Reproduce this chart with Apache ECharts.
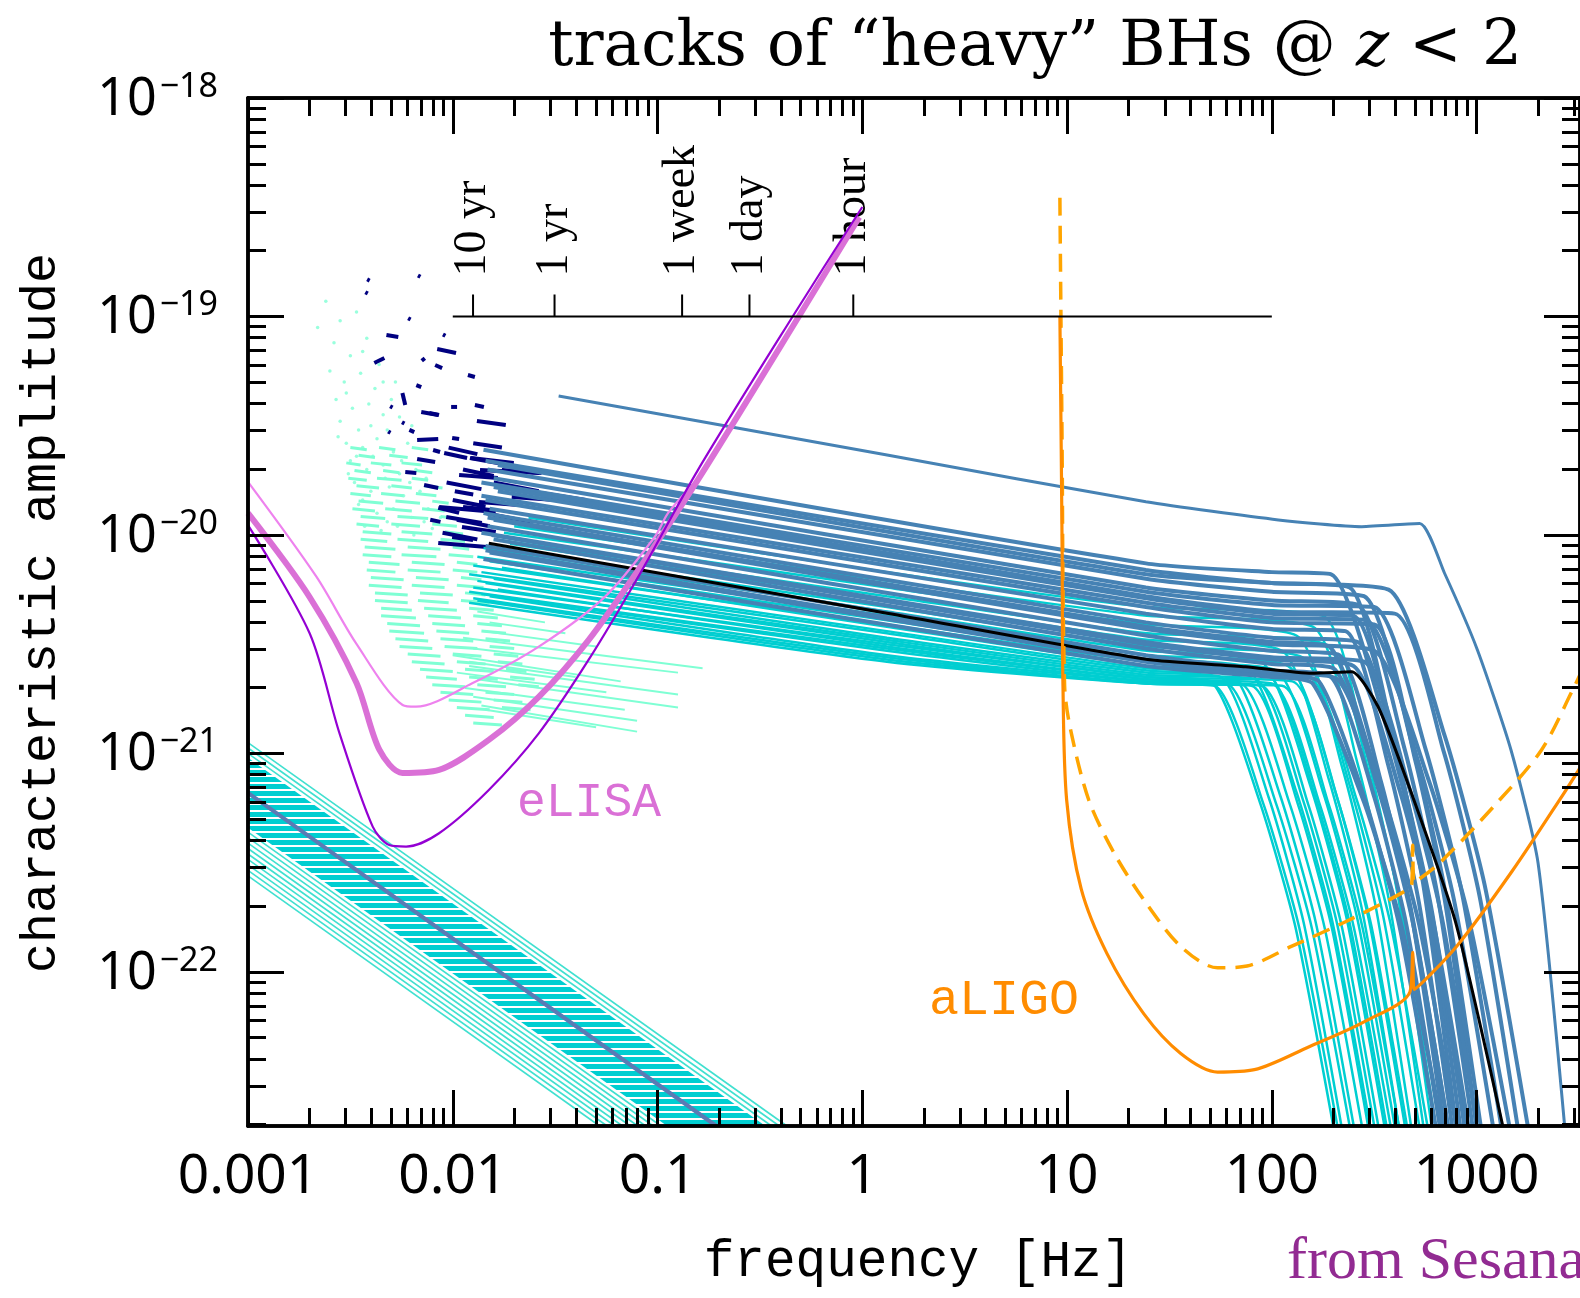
<!DOCTYPE html>
<html><head><meta charset="utf-8">
<script src="https://cdn.jsdelivr.net/npm/echarts@6/dist/echarts.min.js"></script>
<style>html,body{margin:0;padding:0;background:#fff;}#c{width:1580px;height:1298px;}</style>
</head><body><div id="c"></div>
<script>
// All chart values are stored as log10: [log10(frequency / Hz), log10(characteristic amplitude)]
const xTickExp = [-3, -2, -1, 0, 1, 2, 3];
const xTickLabels = ['0.001', '0.01', '0.1', '1', '10', '100', '1000'];
const yTickExp = [-22, -21, -20, -19, -18];
const periodLabels = ['10 yr', '1 yr', '1 week', '1 day', '1 hour'];
const periodFreq = [-1.901, -1.503, -0.880, -0.551, -0.044];
const periodAxis = [[-2, -19], [2, -19]];

const elisaThick = [[-3.0,-19.90],[-2.699,-20.284],[-2.470,-20.677],[-2.358,-20.984],[-2.246,-21.089],[-2.067,-21.075],[-1.824,-20.938],[-1.580,-20.741],[-1.337,-20.481],[-1.094,-20.160],[-0.803,-19.748],[-0.31,-19.0],[-0.015,-18.545]];
const elisaViolet = [[-3.0,-19.955],[-2.699,-20.450],[-2.553,-20.908],[-2.391,-21.335],[-2.310,-21.419],[-2.228,-21.426],[-2.067,-21.365],[-1.824,-21.167],[-1.580,-20.908],[-1.337,-20.572],[-1.094,-20.191],[-0.803,-19.703],[-0.34,-19.0],[0.0,-18.499]];
const elisaLight = [[-3.0,-19.757],[-2.666,-20.191],[-2.472,-20.496],[-2.245,-20.778],[-2.180,-20.786],[-1.905,-20.679],[-1.580,-20.511],[-1.256,-20.282],[-1.013,-20.008],[-0.948,-19.899],[-0.80,-19.74]];

const ligoSolid = [[0.965,-18.998],[0.976,-20.069],[0.980,-20.690],[0.998,-21.213],[1.069,-21.620],[1.195,-21.916],[1.375,-22.192],[1.555,-22.373],[1.735,-22.458],[1.915,-22.447],[2.185,-22.341],[2.455,-22.226],[2.675,-22.09],[2.688,-21.91],[2.695,-22.08],[2.904,-21.881],[3.174,-21.538],[3.427,-21.181],[3.505,-21.066]];
const ligoDashed = [[0.965,-18.457],[0.975,-19.5],[0.988,-20.690],[1.016,-20.886],[1.106,-21.213],[1.231,-21.458],[1.375,-21.670],[1.555,-21.883],[1.735,-21.981],[1.879,-21.973],[2.095,-21.883],[2.365,-21.768],[2.635,-21.638],[2.683,-21.60],[2.688,-21.42],[2.694,-21.59],[2.814,-21.506],[3.081,-21.245],[3.317,-20.984],[3.475,-20.698],[3.505,-20.64]];

const blackTrack = [[-1.824,-20.038],[0.121,-20.358],[1.385,-20.569],[1.871,-20.603],[2.195,-20.633],[2.390,-20.626],[2.519,-20.786],[2.682,-21.182],[2.897,-21.771],[3.128,-22.705]];
const topBlueTrack = [[-1.483,-19.364],[0.121,-19.634],[1.385,-19.848],[2.032,-19.931],[2.439,-19.962],[2.722,-19.947],[2.843,-20.174],[3.004,-20.526],[3.168,-20.984],[3.30,-21.50],[3.43,-22.705]];

const blueTracks = [
[[-1.85,-19.61],[1.385,-20.13],[2.0,-20.17],[2.29,-20.18],[2.554,-20.862],[2.745,-21.569],[2.95,-22.705]],
[[-1.84,-19.66],[1.385,-20.16],[2.0,-20.22],[2.57,-20.25],[2.842,-20.913],[3.039,-21.600],[3.25,-22.705]],
[[-1.83,-19.70],[1.385,-20.20],[2.0,-20.26],[2.45,-20.28],[2.678,-20.935],[2.843,-21.614],[3.02,-22.705]],
[[-1.80,-19.74],[1.385,-20.24],[2.0,-20.30],[2.42,-20.32],[2.644,-20.964],[2.806,-21.632],[2.98,-22.705]],
[[-1.86,-19.76],[1.385,-20.26],[2.0,-20.32],[2.50,-20.33],[2.748,-20.971],[2.928,-21.636],[3.12,-22.705]],
[[-1.78,-19.80],[1.385,-20.29],[2.0,-20.36],[2.40,-20.37],[2.608,-21.0],[2.759,-21.654],[2.92,-22.705]],
[[-1.84,-19.84],[1.385,-20.33],[2.0,-20.40],[2.50,-20.41],[2.70,-21.03],[2.845,-21.672],[3.00,-22.705]],
[[-1.82,-19.88],[1.385,-20.36],[2.0,-20.43],[2.36,-20.44],[2.568,-21.052],[2.719,-21.686],[2.88,-22.705]],
[[-1.85,-19.90],[1.385,-20.40],[2.0,-20.47],[2.42,-20.49],[2.628,-21.088],[2.779,-21.708],[2.94,-22.705]],
[[-1.80,-19.93],[1.385,-20.43],[2.0,-20.50],[2.50,-20.53],[2.764,-21.117],[2.955,-21.726],[3.16,-22.705]],
[[-1.83,-19.96],[1.385,-20.46],[2.0,-20.53],[2.33,-20.55],[2.534,-21.132],[2.682,-21.735],[2.84,-22.705]],
[[-1.86,-19.99],[1.385,-20.49],[2.0,-20.56],[2.45,-20.58],[2.67,-21.154],[2.83,-21.749],[3.00,-22.705]],
[[-1.80,-20.02],[1.385,-20.52],[2.0,-20.59],[2.30,-20.61],[2.524,-21.176],[2.686,-21.762],[2.86,-22.705]],
[[-1.84,-20.05],[1.385,-20.55],[2.0,-20.62],[2.29,-20.65],[2.502,-21.205],[2.656,-21.78],[2.82,-22.705]],
[[-1.82,-20.08],[1.385,-20.58],[2.0,-20.64],[2.23,-20.67],[2.458,-21.219],[2.623,-21.789],[2.80,-22.705]],
[[-1.85,-20.11],[1.385,-20.60],[2.0,-20.65],[2.20,-20.68],[2.452,-21.227],[2.635,-21.794],[2.83,-22.705]],
[[-1.78,-19.68],[1.385,-20.18],[2.0,-20.22],[2.38,-20.24],[2.588,-20.906],[2.739,-21.596],[2.90,-22.705]],
[[-1.86,-19.82],[1.385,-20.31],[2.0,-20.38],[2.46,-20.39],[2.708,-21.015],[2.888,-21.663],[3.08,-22.705]],
[[-1.83,-19.92],[1.385,-20.42],[2.0,-20.49],[2.28,-20.51],[2.512,-21.103],[2.68,-21.717],[2.86,-22.705]],
[[-1.81,-20.00],[1.385,-20.50],[2.0,-20.57],[2.40,-20.60],[2.624,-21.168],[2.786,-21.758],[2.96,-22.705]],
[[-1.84,-20.07],[1.385,-20.57],[2.0,-20.63],[2.32,-20.66],[2.552,-21.212],[2.72,-21.785],[2.90,-22.705]],
[[-1.80,-19.78],[1.385,-20.28],[2.0,-20.35],[2.60,-20.36],[2.84,-20.993],[3.014,-21.65],[3.20,-22.705]]
];

const cyanTracks = [
[[-1.63,-19.92],[0.12,-20.17],[1.39,-20.33],[2.25,-20.37],[2.462,-21.0],[2.616,-21.654],[2.78,-22.705]],
[[-1.70,-19.96],[0.12,-20.21],[1.39,-20.37],[2.20,-20.42],[2.416,-21.037],[2.573,-21.677],[2.74,-22.705]],
[[-1.75,-19.99],[0.12,-20.24],[1.39,-20.41],[2.12,-20.46],[2.344,-21.066],[2.506,-21.695],[2.68,-22.705]],
[[-1.80,-20.02],[0.12,-20.28],[1.39,-20.45],[2.26,-20.50],[2.476,-21.095],[2.633,-21.713],[2.80,-22.705]],
[[-1.72,-20.04],[0.12,-20.30],[1.39,-20.48],[2.05,-20.53],[2.278,-21.117],[2.443,-21.726],[2.62,-22.705]],
[[-1.85,-20.06],[0.12,-20.33],[1.39,-20.51],[2.15,-20.56],[2.378,-21.139],[2.543,-21.74],[2.72,-22.705]],
[[-1.78,-20.08],[0.12,-20.35],[1.39,-20.53],[1.95,-20.58],[2.19,-21.154],[2.364,-21.749],[2.55,-22.705]],
[[-1.88,-20.10],[0.12,-20.37],[1.39,-20.55],[2.08,-20.60],[2.308,-21.168],[2.473,-21.758],[2.65,-22.705]],
[[-1.82,-20.12],[0.12,-20.39],[1.39,-20.57],[1.88,-20.61],[2.12,-21.176],[2.294,-21.762],[2.48,-22.705]],
[[-1.90,-20.14],[0.12,-20.41],[1.39,-20.58],[2.02,-20.62],[2.252,-21.183],[2.42,-21.767],[2.60,-22.705]],
[[-1.76,-20.15],[0.12,-20.42],[1.39,-20.60],[1.80,-20.63],[2.04,-21.19],[2.214,-21.771],[2.40,-22.705]],
[[-1.86,-20.17],[0.12,-20.44],[1.39,-20.61],[1.98,-20.64],[2.212,-21.198],[2.38,-21.776],[2.56,-22.705]],
[[-1.92,-20.18],[0.12,-20.45],[1.39,-20.62],[2.18,-20.65],[2.412,-21.205],[2.58,-21.78],[2.76,-22.705]],
[[-1.80,-20.20],[0.12,-20.47],[1.39,-20.63],[1.75,-20.65],[1.986,-21.205],[2.157,-21.78],[2.34,-22.705]],
[[-1.88,-20.21],[0.12,-20.48],[1.39,-20.64],[1.92,-20.66],[2.152,-21.212],[2.32,-21.785],[2.50,-22.705]],
[[-1.84,-20.22],[0.12,-20.49],[1.39,-20.65],[2.10,-20.67],[2.324,-21.219],[2.486,-21.789],[2.66,-22.705]],
[[-1.90,-20.24],[0.12,-20.50],[1.39,-20.65],[1.70,-20.67],[1.94,-21.219],[2.114,-21.789],[2.30,-22.705]],
[[-1.78,-20.25],[0.12,-20.51],[1.39,-20.66],[1.85,-20.68],[2.086,-21.227],[2.257,-21.794],[2.44,-22.705]],
[[-1.92,-20.26],[0.12,-20.52],[1.39,-20.66],[2.00,-20.68],[2.232,-21.227],[2.40,-21.794],[2.58,-22.705]],
[[-1.86,-20.27],[0.12,-20.53],[1.39,-20.67],[1.78,-20.68],[2.02,-21.227],[2.194,-21.794],[2.38,-22.705]],
[[-1.82,-20.28],[0.12,-20.55],[1.39,-20.67],[1.95,-20.69],[2.178,-21.234],[2.343,-21.798],[2.52,-22.705]],
[[-1.90,-20.29],[0.12,-20.56],[1.39,-20.68],[1.72,-20.69],[1.96,-21.234],[2.134,-21.798],[2.32,-22.705]],
[[-1.88,-20.30],[0.12,-20.57],[1.39,-20.68],[1.90,-20.69],[2.128,-21.234],[2.293,-21.798],[2.47,-22.705]],
[[-1.92,-20.31],[0.12,-20.58],[1.39,-20.68],[2.05,-20.69],[2.278,-21.234],[2.443,-21.798],[2.62,-22.705]]
];

// navy early-inspiral segments [x0, y0, x1, y1]
const navySegs = [
[-2.170,-18.812,-2.158,-18.818],[-2.418,-18.830,-2.406,-18.836],[-2.427,-18.889,-2.415,-18.895],[-2.218,-19.008,-2.206,-19.014],
[-2.048,-19.082,-2.036,-19.088],[-2.324,-19.085,-2.266,-19.094],[-2.076,-19.149,-1.984,-19.167],[-2.383,-19.213,-2.334,-19.190],
[-2.086,-19.222,-2.052,-19.236],[-2.150,-19.190,-2.138,-19.204],[-1.926,-19.268,-1.892,-19.277],[-2.178,-19.314,-2.154,-19.323],
[-2.246,-19.350,-2.232,-19.405],[-2.008,-19.414,-1.979,-19.414],[-1.892,-19.405,-1.848,-19.414],[-1.882,-19.478,-1.741,-19.497],
[-2.154,-19.437,-2.071,-19.451],[-2.306,-19.411,-2.294,-19.417],[-2.248,-19.484,-2.236,-19.490],[-2.316,-19.526,-2.304,-19.532],
[-2.212,-19.519,-2.188,-19.529],[-2.174,-19.565,-2.071,-19.561],[-2.003,-19.556,-1.969,-19.561],[-2.096,-19.611,-2.062,-19.620],
[-2.042,-19.625,-1.930,-19.648],[-1.916,-19.648,-1.726,-19.680],[-2.174,-19.652,-2.086,-19.666],[-2.232,-19.712,-2.178,-19.716],
[-1.969,-19.725,-1.780,-19.739],[-1.867,-19.703,-1.576,-19.716],[-2.140,-19.771,-2.071,-19.785],[-1.712,-19.826,-1.352,-19.849],
[-2.071,-19.876,-1.969,-19.899],[-1.950,-19.872,-1.814,-19.886],[-2.003,-20.009,-1.901,-20.023],[-2.071,-20.037,-1.833,-20.055],
[-2.115,-19.442,-2.067,-19.451],[-1.911,-19.648,-1.702,-19.671],[-1.760,-19.703,-1.566,-19.716],[-1.663,-19.794,-1.352,-19.840],
[-1.872,-19.849,-1.678,-19.863],[-2.067,-19.872,-1.790,-19.895],[-2.032,-19.918,-1.858,-19.945],[-1.955,-19.963,-1.790,-19.986],
[-2.110,-19.930,-2.060,-19.940],[-1.990,-19.800,-1.900,-19.815],
[-2.03,-19.76,-1.86,-19.79],[-2.00,-19.84,-1.84,-19.87],[-1.98,-19.93,-1.82,-19.96],[-2.05,-19.99,-1.88,-20.02],
[-1.95,-19.70,-1.80,-19.73],[-2.02,-19.60,-1.88,-19.63],[-1.90,-19.58,-1.76,-19.60],[-1.80,-19.76,-1.58,-19.80],
[-1.84,-19.90,-1.62,-19.94]
];

// aquamarine scattered early positions
const aquaDots = [
[-2.62,-18.93],[-2.55,-19.02],[-2.47,-18.98],[-2.58,-19.12],[-2.50,-19.18],[-2.42,-19.10],[-2.60,-19.25],[-2.53,-19.30],
[-2.45,-19.26],[-2.38,-19.33],[-2.57,-19.38],[-2.49,-19.42],[-2.41,-19.40],[-2.34,-19.45],[-2.55,-19.48],[-2.46,-19.52],
[-2.30,-19.38],[-2.36,-19.22],[-2.28,-19.30],[-2.66,-19.05],[-2.52,-19.58],[-2.44,-19.60],[-2.37,-19.56],[-2.29,-19.62],
[-2.22,-19.58],[-2.50,-19.66],[-2.42,-19.70],[-2.34,-19.68],[-2.26,-19.72],[-2.18,-19.70],[-2.48,-19.76],[-2.40,-19.80],
[-2.31,-19.78],[-2.24,-19.82],[-2.16,-19.80],[-2.46,-19.86],[-2.37,-19.90],[-2.29,-19.88],[-2.20,-19.92],[-2.12,-19.88],
[-2.43,-19.96],[-2.35,-19.98],[-2.27,-19.96],[-2.19,-20.00],[-2.10,-19.97],[-2.51,-19.72],[-2.47,-19.64],[-2.39,-19.64],
[-2.33,-19.74],[-2.21,-19.76],[-2.44,-19.84],[-2.32,-19.94],[-2.14,-19.94],[-2.06,-19.92],[-2.25,-19.66],[-2.13,-19.74],
[-2.56,-19.55],[-2.40,-19.50],[-2.32,-19.52],[-2.26,-19.46],[-2.20,-19.50],[-2.52,-19.35],[-2.44,-19.16],[-2.34,-19.30]
];
// aquamarine dense cloud rows: [log10 h, x0, x1, x0, x1, ...]
const aquaRows = [
[-19.60,-2.50,-2.42,-2.36,-2.28,-2.20,-2.12],
[-19.635,-2.46,-2.38,-2.31,-2.22],
[-19.67,-2.52,-2.45,-2.40,-2.30,-2.25,-2.15],
[-19.705,-2.48,-2.40,-2.34,-2.26,-2.18,-2.10],
[-19.74,-2.51,-2.42,-2.37,-2.25,-2.20,-2.12],
[-19.775,-2.47,-2.36,-2.30,-2.20,-2.14,-2.05],
[-19.81,-2.50,-2.40,-2.35,-2.24,-2.18,-2.08],
[-19.845,-2.46,-2.34,-2.28,-2.16,-2.10,-2.02],
[-19.88,-2.49,-2.38,-2.33,-2.20,-2.15,-2.04],
[-19.915,-2.45,-2.33,-2.27,-2.12,-2.06,-1.98],
[-19.95,-2.47,-2.36,-2.30,-2.16,-2.10,-1.98],
[-19.985,-2.44,-2.30,-2.25,-2.10,-2.04,-1.95],
[-20.02,-2.45,-2.32,-2.27,-2.12,-2.06,-1.94],
[-20.055,-2.43,-2.28,-2.22,-2.06,-2.00,-1.92],
[-20.09,-2.44,-2.30,-2.25,-2.08,-2.02,-1.90],
[-20.125,-2.41,-2.26,-2.20,-2.04,-1.98,-1.88],
[-20.16,-2.42,-2.28,-2.22,-2.06,-2.00,-1.88],
[-20.195,-2.40,-2.24,-2.18,-2.02,-1.96,-1.86],
[-20.23,-2.41,-2.25,-2.20,-2.04,-1.98,-1.85],
[-20.265,-2.38,-2.22,-2.16,-2.00,-1.94,-1.84],
[-20.30,-2.38,-2.22,-2.17,-2.02,-1.96,-1.82],
[-20.335,-2.35,-2.20,-2.14,-1.98,-1.92,-1.80],
[-20.37,-2.35,-2.18,-2.12,-1.96,-1.90,-1.78],
[-20.405,-2.32,-2.16,-2.10,-1.94,-1.88,-1.76],
[-20.44,-2.31,-2.14,-2.08,-1.92,-1.86,-1.74],
[-20.475,-2.28,-2.12,-2.06,-1.90,-1.84,-1.72],
[-20.51,-2.26,-2.10,-2.04,-1.88,-1.82,-1.70],
[-20.545,-2.22,-2.06,-2.00,-1.86,-1.80,-1.68],
[-20.58,-2.20,-2.04,-1.98,-1.84,-1.78,-1.66],
[-20.615,-2.16,-2.00,-1.94,-1.80,-1.74,-1.64],
[-20.65,-2.13,-1.98,-1.92,-1.78,-1.72,-1.60],
[-20.685,-2.10,-1.94,-1.88,-1.74,-1.68,-1.58],
[-20.72,-2.06,-1.90,-1.84,-1.70],
[-20.755,-2.02,-1.86,-1.80,-1.66],
[-20.79,-1.98,-1.82,-1.76,-1.62],
[-20.825,-1.94,-1.80],
[-20.86,-1.90,-1.76]
];
// aquamarine longer track segments [x0, y0, x1, y1]
const aquaSegs = [
[-1.95,-20.47,-0.78,-20.61],[-1.90,-20.52,-0.90,-20.63],[-2.00,-20.55,-1.18,-20.67],[-1.92,-20.60,-0.90,-20.73],
[-1.98,-20.63,-1.25,-20.72],[-1.88,-20.66,-0.90,-20.79],[-1.94,-20.70,-1.16,-20.80],[-1.90,-20.74,-1.10,-20.85],
[-1.86,-20.78,-1.10,-20.90],[-1.84,-20.80,-1.30,-20.88],[-1.92,-20.58,-1.40,-20.65],[-1.85,-20.44,-1.30,-20.51],
[-1.82,-20.40,-1.45,-20.45],[-1.88,-20.35,-1.55,-20.40]
];

// stochastic background band (lower left)
const bandCenter = [[-3, -21.18], [-0.713, -22.705]];
const bandInner = [[-3, -21.02], [-0.473, -22.705], [-0.953, -22.705], [-3, -21.34]];
const bandHatch = [
[-3,-20.95,-0.368,-22.705],[-3,-20.975,-0.405,-22.705],[-3,-21.0,-0.443,-22.705],
[-3,-21.36,-0.983,-22.705],[-3,-21.385,-1.021,-22.705],[-3,-21.41,-1.058,-22.705],[-3,-21.435,-1.096,-22.705],
[-3,-21.46,-1.133,-22.705],[-3,-21.485,-1.171,-22.705],[-3,-21.51,-1.208,-22.705],[-3,-21.535,-1.246,-22.705],
[-3,-21.56,-1.283,-22.705]
];

const X_MIN = -3, X_MAX = 3.505, Y_MIN = -22.705, Y_MAX = -18;

const minorX = [], minorY = [];
for (let n = -3; n <= 3; n++) for (let k = 2; k <= 9; k++) { const v = n + Math.log10(k); if (v < X_MAX) minorX.push(v); }
for (let n = -23; n <= -19; n++) for (let k = 2; k <= 9; k++) { const v = n + Math.log10(k); if (v > Y_MIN && v < Y_MAX) minorY.push(v); }

// split cloud rows into individual dashes
const aquaDashes = [];
aquaRows.forEach(r => { for (let i = 1; i + 1 < r.length; i += 2) aquaDashes.push([r[i], r[0], r[i + 1], r[0] - 0.01]); });

function xAx(pos, vals, len, withLabels) {
  return {
    type: 'value', min: X_MIN, max: X_MAX, position: pos, z: 10,
    axisLine: { show: true, onZero: false, lineStyle: { color: '#000', width: 3.5 } },
    axisTick: { show: true, inside: true, length: len, customValues: vals, lineStyle: { color: '#000', width: 3 } },
    axisLabel: withLabels ? {
      show: true, customValues: xTickExp, margin: 24, fontSize: 55, fontFamily: 'Noto Sans', color: '#000',
      formatter: v => xTickLabels[xTickExp.indexOf(Math.round(v))]
    } : { show: false },
    splitLine: { show: false }
  };
}
function yAx(pos, vals, len, withLabels) {
  return {
    type: 'value', min: Y_MIN, max: Y_MAX, position: pos, z: 10,
    axisLine: { show: true, onZero: false, lineStyle: { color: '#000', width: 3.5 } },
    axisTick: { show: true, inside: true, length: len, customValues: vals, lineStyle: { color: '#000', width: 3 } },
    axisLabel: withLabels ? {
      show: true, customValues: yTickExp, margin: 30,
      formatter: v => '{a|10}{b|\u2212' + Math.abs(Math.round(v)) + '}',
      rich: {
        a: { fontSize: 52, fontFamily: 'Noto Sans', color: '#000', lineHeight: 56, verticalAlign: 'bottom' },
        b: { fontSize: 34, fontFamily: 'Noto Sans', color: '#000', lineHeight: 34, verticalAlign: 'top', padding: [0, 0, 0, 3] }
      }
    } : { show: false },
    splitLine: { show: false }
  };
}

const series = [];
function addLine(data, color, width, extra) {
  series.push(Object.assign({
    type: 'line', data: data, showSymbol: false, symbol: 'none', silent: true, animation: false,
    xAxisIndex: 0, yAxisIndex: 0, lineStyle: { color: color, width: width }
  }, extra || {}));
}
function addSegs(data, color, width) {
  series.push({
    type: 'custom', coordinateSystem: 'cartesian2d', xAxisIndex: 0, yAxisIndex: 0, silent: true, animation: false,
    encode: { x: [0, 2], y: [1, 3] }, data: data,
    renderItem: function (params, api) {
      const a = api.coord([api.value(0), api.value(1)]);
      const b = api.coord([api.value(2), api.value(3)]);
      return { type: 'line', shape: { x1: a[0], y1: a[1], x2: b[0], y2: b[1] }, style: { stroke: color, lineWidth: width, lineCap: 'butt' } };
    }
  });
}

// stripe pattern for the inner band
const pc = document.createElement('canvas');
pc.width = 8; pc.height = 7;
const pctx = pc.getContext('2d');
pctx.fillStyle = '#ffffff'; pctx.fillRect(0, 0, 8, 7);
pctx.fillStyle = '#00CED1'; pctx.fillRect(0, 0, 8, 5);

// band
series.push({
  type: 'custom', coordinateSystem: 'cartesian2d', xAxisIndex: 0, yAxisIndex: 0, silent: true, animation: false,
  data: [bandInner[0]],
  renderItem: function (params, api) {
    const pts = bandInner.map(p => api.coord(p));
    return { type: 'polygon', shape: { points: pts }, style: { fill: { image: pc, repeat: 'repeat' } } };
  }
});
addSegs(bandHatch, '#40E0D0', 1.6);
addLine(bandCenter, '#5a7bb5', 4);

// aquamarine cloud
series.push({ type: 'scatter', data: aquaDots, symbolSize: 3.5, silent: true, animation: false, itemStyle: { color: '#7FFFD4' } });
addSegs(aquaDashes, '#7FFFD4', 3);
addSegs(aquaSegs, '#7FFFD4', 2);

// tracks
const trackSmooth = { smooth: 0.2 };
cyanTracks.forEach(t => addLine(t, '#00CED1', 2.5, trackSmooth));
blueTracks.forEach(t => addLine(t, '#4682B4', 4, trackSmooth));
addLine(topBlueTrack, '#4682B4', 3, trackSmooth);
addSegs(navySegs, '#000080', 4);
addLine(blackTrack, '#000000', 3, trackSmooth);

// eLISA
addLine(elisaLight, '#EE82EE', 2.2, { smooth: 0.3 });
addLine(elisaThick, '#DA70D6', 6, { smooth: 0.3 });
addLine(elisaViolet, '#9400D3', 2.2, { smooth: 0.3 });

// aLIGO
addLine(ligoDashed, '#FFA500', 3.5, { smooth: 0.3, lineStyle: { color: '#FFA500', width: 3.5, type: [18, 10] } });
addLine(ligoSolid, '#FF8C00', 3.2, { smooth: 0.3 });

// period axis
addLine(periodAxis, '#000000', 2);
series.push({
  type: 'custom', coordinateSystem: 'cartesian2d', xAxisIndex: 0, yAxisIndex: 0, silent: true, animation: false,
  data: periodFreq.map(f => [f, -19]),
  renderItem: function (params, api) {
    const p = api.coord([api.value(0), api.value(1)]);
    return {
      type: 'group', children: [
        { type: 'line', shape: { x1: p[0], y1: p[1], x2: p[0], y2: p[1] - 22 }, style: { stroke: '#000', lineWidth: 2 } },
        { type: 'text', x: p[0], y: p[1] - 40, rotation: Math.PI / 2,
          style: { text: periodLabels[params.dataIndex], font: '46px "Liberation Serif"', fill: '#000',
                   textAlign: 'left', textVerticalAlign: 'middle', align: 'left', verticalAlign: 'middle' } }
      ]
    };
  }
});

const chart = echarts.init(document.getElementById('c'), null, { renderer: 'canvas' });
chart.setOption({
  animation: false,
  backgroundColor: '#ffffff',
  title: {
    text: '{n|tracks of \u201cheavy\u201d BHs @ }{i|z}{n| < 2}',
    right: 58, top: 11, padding: 0,
    textStyle: {
      fontWeight: 'normal',
      rich: {
        n: { fontFamily: 'DejaVu Serif', fontWeight: 'normal', fontSize: 63, color: '#000', lineHeight: 76 },
        i: { fontFamily: 'DejaVu Serif', fontWeight: 'normal', fontStyle: 'italic', fontSize: 63, color: '#000', lineHeight: 76 }
      }
    }
  },
  grid: { left: 248, top: 98, width: 1338, height: 1028, containLabel: false },
  xAxis: [xAx('bottom', xTickExp, 36, true), xAx('bottom', minorX, 18, false), xAx('top', xTickExp, 36, false), xAx('top', minorX, 18, false)],
  yAxis: [yAx('left', yTickExp, 36, true), yAx('left', minorY, 18, false), yAx('right', yTickExp, 36, false), yAx('right', minorY, 18, false)],
  graphic: [
    { type: 'text', x: 918, y: 1262, style: { text: 'frequency [Hz]', font: '51px "Liberation Mono"', fill: '#000', textAlign: 'center', textVerticalAlign: 'middle', align: 'center', verticalAlign: 'middle' } },
    { type: 'text', x: 42, y: 613, rotation: Math.PI / 2, style: { text: 'characteristic amplitude', font: '50px "Liberation Mono"', fill: '#000', textAlign: 'center', textVerticalAlign: 'middle', align: 'center', verticalAlign: 'middle' } },
    { type: 'text', x: 517, y: 803, style: { text: 'eLISA', font: '48px "Liberation Mono"', fill: '#DA70D6', textAlign: 'left', textVerticalAlign: 'middle', align: 'left', verticalAlign: 'middle' } },
    { type: 'text', x: 929, y: 1001, style: { text: 'aLIGO', font: '50px "Liberation Mono"', fill: '#FF8C00', textAlign: 'left', textVerticalAlign: 'middle', align: 'left', verticalAlign: 'middle' } },
    { type: 'text', x: 1287, y: 1262, style: { text: 'from Sesana (2016)', font: '60px "Liberation Serif"', fill: '#922B92', textAlign: 'left', textVerticalAlign: 'middle', align: 'left', verticalAlign: 'middle' } }
  ],
  series: series
});
</script></body></html>
